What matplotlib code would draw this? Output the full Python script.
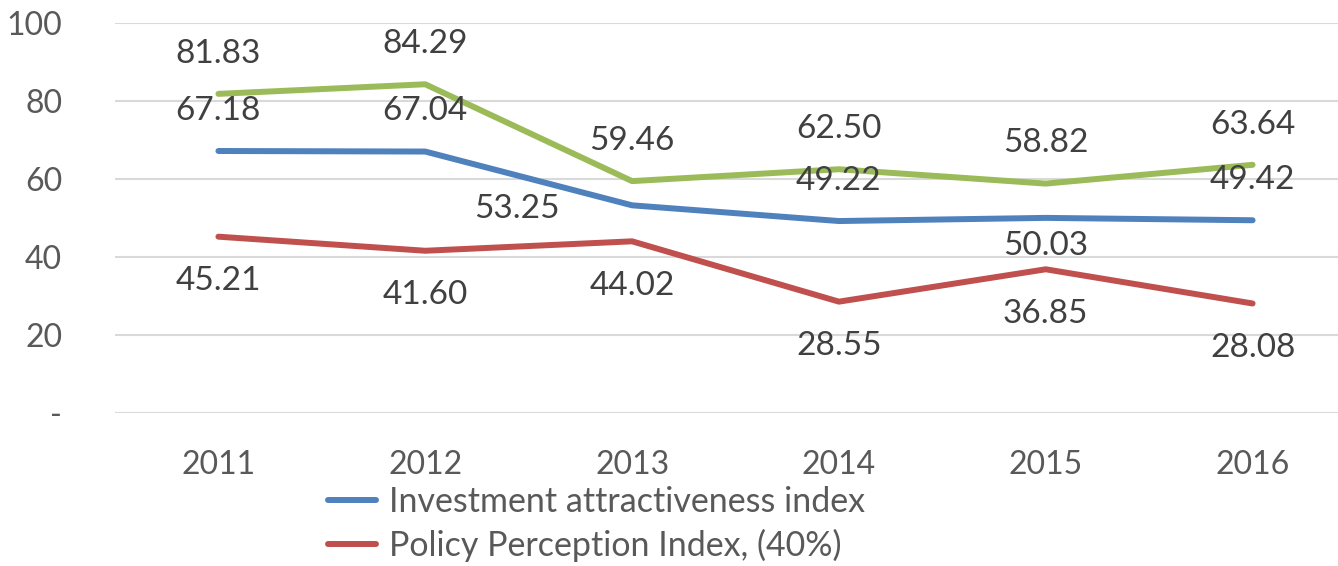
import matplotlib
matplotlib.use('Agg')
import matplotlib.pyplot as plt

# data
years = ['2011', '2012', '2013', '2014', '2015', '2016']
invest = [67.18, 67.04, 53.25, 49.22, 50.03, 49.42]
policy = [45.21, 41.60, 44.02, 28.55, 36.85, 28.08]
green_vals = [81.83, 84.29, 59.46, 62.50, 58.82, 63.64]

plt.rcParams['font.family'] = ['Lato', 'DejaVu Sans']

BLUE = '#4F81BD'
RED = '#C0504D'
GREEN = '#9BBB59'
TICK_COL = '#595959'
LABEL_COL = '#404040'
FS = 23

# label placement (offset points) for each series
OFFSETS = {
    'above': ((0, 29), 'center'),
    'below': ((0, -32), 'center'),
    'near_below': ((0, -20), 'center'),
    'left': ((-52, -3), 'right'),
}
invest_pos = ['above', 'above', 'left', 'above', 'near_below', 'above']

fig = plt.figure(figsize=(13.38, 5.66), dpi=100)
ax = fig.add_axes([115 / 1338, 1 - 413 / 566, (1356 - 115) / 1338, (413 - 23) / 566])

x = list(range(len(years)))
kw = dict(linewidth=4.3, solid_capstyle='round', solid_joinstyle='round')
l_blue, = ax.plot(x, invest, color=BLUE, label='Investment attractiveness index', zorder=3, **kw)
l_red, = ax.plot(x, policy, color=RED, label='Policy Perception Index, (40%)', zorder=3, **kw)
ax.plot(x, green_vals, color=GREEN, zorder=3, **kw)

def label(xi, yi, pos):
    off, ha = OFFSETS[pos]
    ax.annotate(f'{yi:.2f}', (xi, yi), xytext=off, textcoords='offset points',
                ha=ha, va='center', fontsize=24, color=LABEL_COL, zorder=4)

for xi, yi in zip(x, green_vals):
    label(xi, yi, 'above')
for xi, yi, p in zip(x, invest, invest_pos):
    label(xi, yi, p)
for xi, yi in zip(x, policy):
    label(xi, yi, 'below')

ax.set_xlim(-0.5, 5.5)
ax.set_ylim(0, 100)
ax.set_yticks([0, 20, 40, 60, 80, 100])
ax.set_yticklabels(['-', '20', '40', '60', '80', '100'])
ax.set_xticks(x)
ax.set_xticklabels(years)
ax.grid(axis='y', color='#D9D9D9', linewidth=1.5)
ax.set_axisbelow(True)
for s in ax.spines.values():
    s.set_visible(False)
ax.tick_params(axis='both', length=0, labelsize=FS, colors=TICK_COL)
ax.tick_params(axis='y', pad=38)
ax.tick_params(axis='x', pad=27)

fig.legend(handles=[l_blue, l_red], loc='upper left', bbox_to_anchor=(328 / 1338, 1 - 486 / 566),
           frameon=False, fontsize=24.5, labelcolor=TICK_COL, handlelength=1.4,
           handletextpad=0.4, labelspacing=0.32, borderaxespad=0, borderpad=0)

fig.savefig('out.png', dpi=100)
